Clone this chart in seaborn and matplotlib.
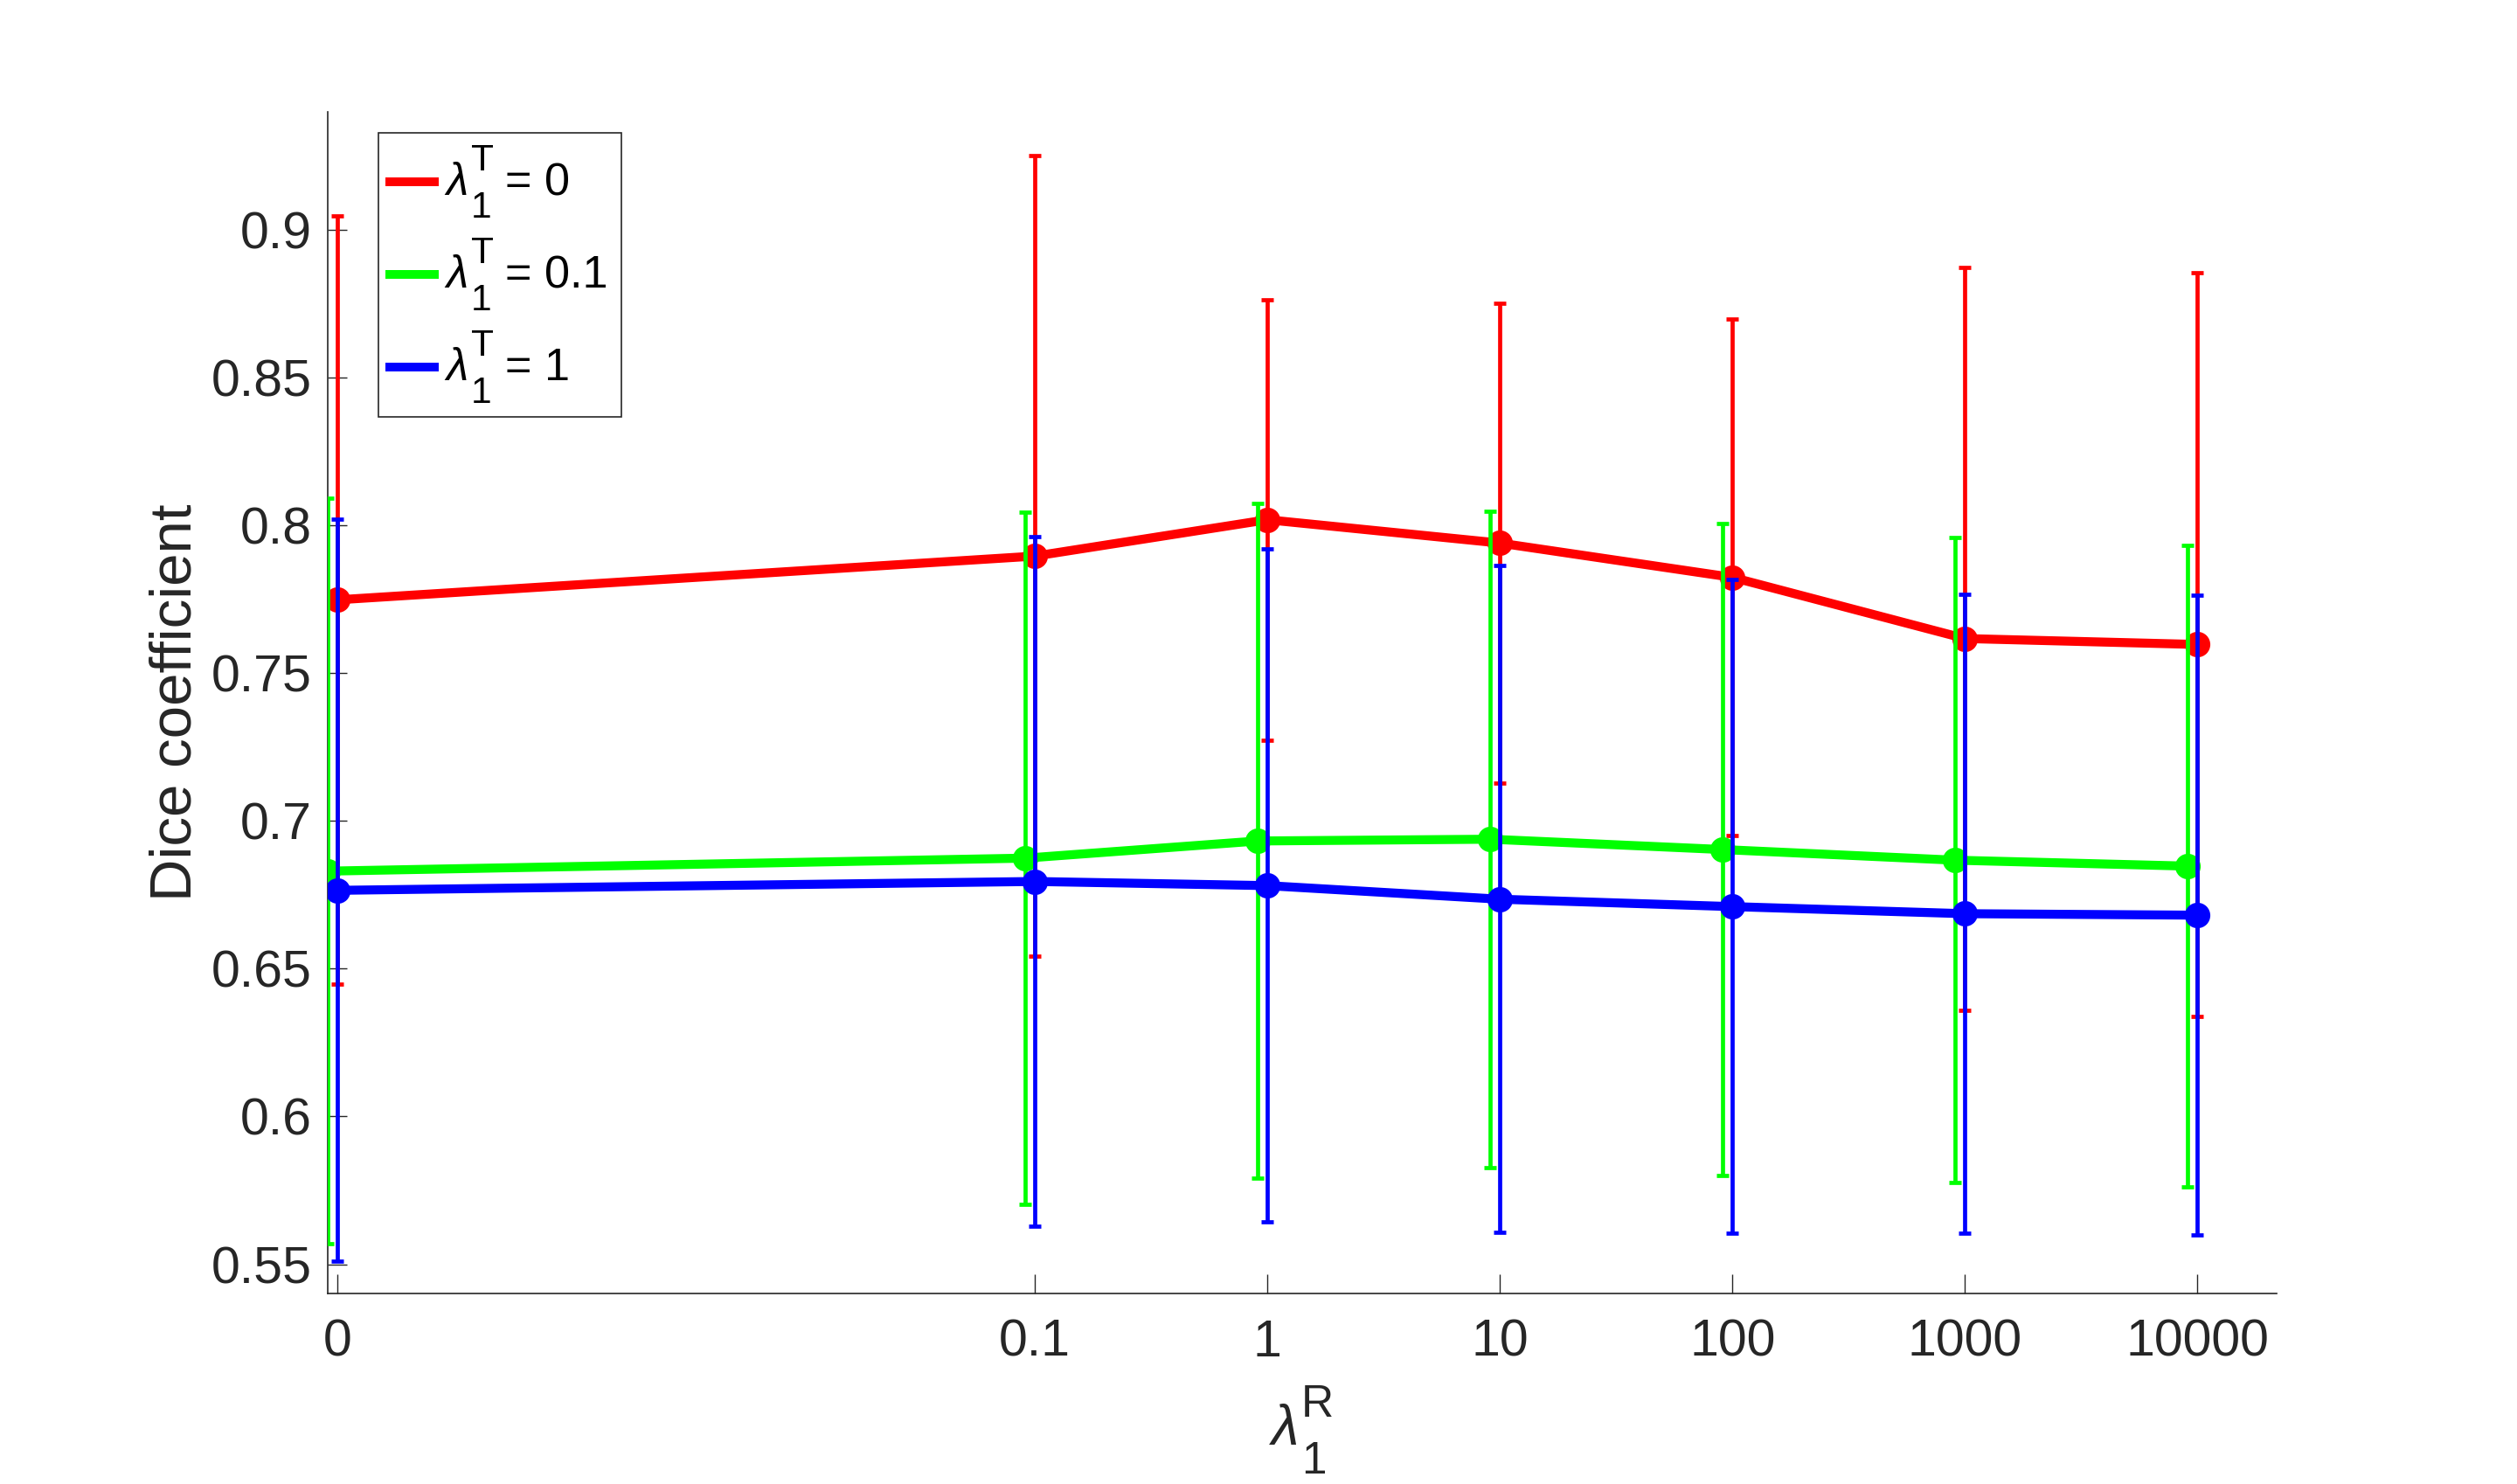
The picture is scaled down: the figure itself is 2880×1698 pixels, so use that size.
import numpy as np
import pandas as pd
import matplotlib
matplotlib.use("Agg")
import matplotlib.pyplot as plt
import seaborn as sns
from matplotlib.lines import Line2D
from matplotlib.patches import Rectangle
from matplotlib.ticker import NullLocator

# === DATA ===
lam_r = [0, 0.1, 1, 10, 100, 1000, 10000]
lam_r_labels = ["0", "0.1", "1", "10", "100", "1000", "10000"]
series_names = ["0", "0.1", "1"]          # lambda_1^T values

mean_t0 = [0.7748, 0.7896, 0.8019, 0.7940, 0.7824, 0.7617, 0.7597]
std_t0 = [0.1300, 0.1355, 0.0745, 0.0812, 0.0873, 0.1257, 0.1258]
mean_t01 = [0.6830, 0.6874, 0.6932, 0.6938, 0.6903, 0.6867, 0.6847]
std_t01 = [0.1261, 0.1172, 0.1141, 0.1111, 0.1103, 0.1091, 0.1084]
mean_t1 = [0.6765, 0.6795, 0.6781, 0.6735, 0.6710, 0.6686, 0.6681]
std_t1 = [0.1256, 0.1166, 0.1138, 0.1128, 0.1106, 0.1081, 0.1082]

y_ticks = [0.55, 0.6, 0.65, 0.7, 0.75, 0.8, 0.85, 0.9]

# === STYLE ===
sns.set_theme(style="ticks")
plt.rcParams["font.family"] = ["Liberation Sans", "DejaVu Sans"]

colors = {"0": (1, 0, 0), "0.1": (0, 1, 0), "1": (0, 0, 1)}
x_shift = {"0": 1.0, "0.1": 0.91, "1": 1.0}   # green is nudged left in the source
axis_col = "#262626"
W, H = 2880, 1698


def fx(px):
    return px / W


def fy(py):
    return 1 - py / H


# 0 sits three decades below 0.1 on the log axis
x_pos = np.array([1e-4 if v == 0 else v for v in lam_r])

rows = []
for name, m, s in [("0", mean_t0, std_t0), ("0.1", mean_t01, std_t01), ("1", mean_t1, std_t1)]:
    for xv, mv, sv in zip(x_pos, m, s):
        rows.append({"series": name, "x": xv * x_shift[name], "mean": mv, "std": sv})
df = pd.DataFrame(rows)

fig, ax = plt.subplots(figsize=(14.4, 8.49), dpi=200)
fig.subplots_adjust(left=0.1302, right=0.9045, bottom=0.1282, top=0.9248)

for i, name in enumerate(series_names):
    d = df[df["series"] == name]
    z = 2 + i
    ax.errorbar(d["x"], d["mean"], yerr=d["std"], fmt="none", ecolor=colors[name],
                elinewidth=1.7, capsize=2.4, capthick=1.7, zorder=z)
    sns.lineplot(data=d, x="x", y="mean", color=colors[name], marker="o",
                 markersize=10.5, markeredgewidth=0, linewidth=3.7,
                 legend=False, ax=ax, zorder=z + 0.5)

ax.set_xscale("log")
ax.set_xlim(10 ** -4.042, 10 ** 4.341)
ax.set_ylim(0.54, 0.94)
ax.set_xticks(x_pos)
ax.set_xticklabels(lam_r_labels)
ax.xaxis.set_minor_locator(NullLocator())
ax.set_yticks(y_ticks)
ax.set_yticklabels([f"{t:g}" for t in y_ticks])

for side in ["top", "right"]:
    ax.spines[side].set_visible(False)
for side in ["left", "bottom"]:
    ax.spines[side].set_color(axis_col)
    ax.spines[side].set_linewidth(0.6)

ax.tick_params(axis="both", direction="in", length=7.9, width=0.5, color=axis_col,
               labelsize=21.3, labelcolor=axis_col)
ax.tick_params(axis="x", pad=10.3)
ax.tick_params(axis="y", pad=6.5)

ax.set_ylabel("Dice coefficient", fontsize=24.2, color=axis_col, labelpad=3.5)
ax.set_xlabel("")

# x label lambda_1^R, TeX-style with large stacked scripts
fig.text(fx(1455), fy(1653), "\u03bb", fontsize=23, style="italic", color=axis_col, va="baseline")
fig.text(fx(1489), fy(1620.7), "R", fontsize=18.5, color=axis_col, va="baseline")
fig.text(fx(1489), fy(1686), "1", fontsize=18.5, color=axis_col, va="baseline")

# legend, drawn like the MATLAB one
fig.add_artist(Rectangle((fx(433.3), fy(476.7)), fx(710.7) - fx(433.3), fy(151.7) - fy(476.7),
                         transform=fig.transFigure, facecolor="white", edgecolor=axis_col,
                         linewidth=0.6, zorder=5))
baselines = [223.3, 329.3, 435.0]
for name, b in zip(series_names, baselines):
    fig.add_artist(Line2D([fx(441), fx(501.7)], [fy(b - 15), fy(b - 15)],
                          transform=fig.transFigure, color=colors[name], lw=3.6,
                          solid_capstyle="butt", zorder=6))
    fig.text(fx(510), fy(b), "\u03bb", fontsize=18.5, style="italic", color="black",
             va="baseline", zorder=7)
    fig.text(fx(539), fy(b - 28.3), "T", fontsize=15.3, color="black", va="baseline", zorder=7)
    fig.text(fx(538.5), fy(b + 26), "1", fontsize=15.3, color="black", va="baseline", zorder=7)
    fig.text(fx(578.4), fy(b), "= " + name, fontsize=18.8, color="black", va="baseline", zorder=7)

plt.savefig("out.png", dpi=200)
